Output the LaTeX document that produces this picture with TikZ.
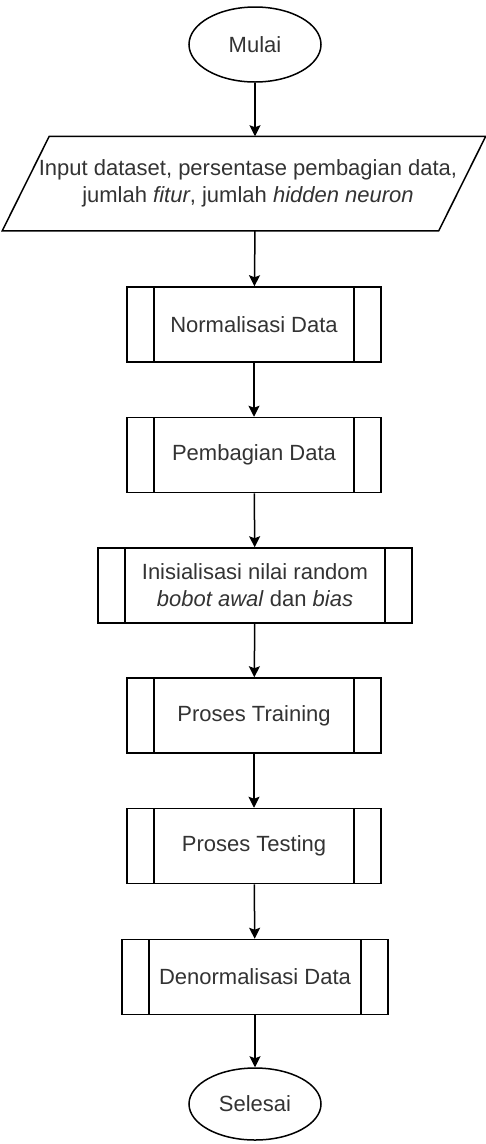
\documentclass[tikz,border=0pt]{standalone}
\usepackage{fontspec}
\setmainfont{Liberation Sans}
\usetikzlibrary{shapes.geometric,arrows.meta}

\tikzset{
  term/.style={draw,ellipse,minimum width=132pt,minimum height=75pt,inner sep=0pt},
  io/.style={rectangle,minimum width=435pt,minimum height=93pt,inner sep=0pt},
  proc/.style={draw,rectangle,minimum width=254pt,minimum height=75pt,inner sep=0pt,
    path picture={
      \draw ([xshift=27pt]path picture bounding box.north west) -- ([xshift=27pt]path picture bounding box.south west);
      \draw ([xshift=-27pt]path picture bounding box.north east) -- ([xshift=-27pt]path picture bounding box.south east);
    }},
  arr/.style={-{Stealth[length=11pt,width=11pt,inset=2pt]}}
}

\begin{document}
\begin{tikzpicture}
            [x=1pt,y=-1pt,line width=1.5pt,
             every node/.style={text=black!80,font=\fontsize{22}{27}\selectfont,align=center}]
            \useasboundingbox (0,0) rectangle (486,1144);
            \node[term] (mulai) at (255,44.5) {Mulai};
            \node[io] (input) at (248,183.5) {Input dataset, persentase pembagian data,\\ jumlah \textit{fitur}, jumlah \textit{hidden neuron}};
            \node[proc] (norm) at (254,324.5) {Normalisasi Data};
            \node[proc] (bagi) at (254,455) {Pembagian Data};
            \node[proc,minimum width=314pt] (init) at (255,585.5) {Inisialisasi nilai random\\ \textit{bobot awal} dan \textit{bias}};
            \node[proc] (train) at (254,715.5) {Proses Training};
            \node[proc] (test) at (254,846) {Proses Testing};
            \node[proc,minimum width=266pt] (denorm) at (255,977) {Denormalisasi Data};
            \node[term,minimum height=72pt] (selesai) at (255,1104) {Selesai};
            % jajaran genjang input
            \draw ([xshift=19.5pt]input.north west) -- ([xshift=19.5pt]input.north east)
                -- ([xshift=-27.5pt]input.south east) -- ([xshift=-27.5pt]input.south west) -- cycle;
            % alur
            \draw[arr] (mulai) -- (mulai |- input.north);
            \draw[arr] (mulai |- input.south) -- (norm);
            \draw[arr] (norm) -- (bagi);
            \draw[arr] (bagi) -- (init);
            \draw[arr] (init) -- (train);
            \draw[arr] (train) -- (test);
            \draw[arr] (test) -- (denorm);
            \draw[arr] (denorm) -- (selesai);
        \end{tikzpicture}
\end{document}
